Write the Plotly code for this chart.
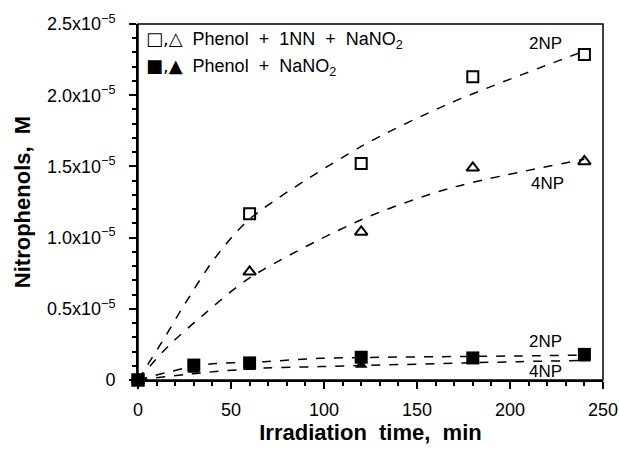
import plotly.graph_objects as go

# measured data (M)
t_open = [0, 60, 120, 180, 240]
np2_open = [0, 1.167e-5, 1.52e-5, 2.13e-5, 2.285e-5]
np4_open = [0, 0.76e-5, 1.04e-5, 1.49e-5, 1.535e-5]

t_fill = [0, 30, 60, 120, 180, 240]
np2_fill = [0, 0.105e-5, 0.12e-5, 0.16e-5, 0.155e-5, 0.18e-5]
np4_fill = [0, 0.07e-5, 0.09e-5, 0.105e-5, 0.14e-5, 0.15e-5]

# fitted curves
t_c2o = [0, 13, 25, 41, 60, 120, 168, 240]
c2o = [0, 0.27e-5, 0.53e-5, 0.85e-5, 1.13e-5, 1.64e-5, 1.945e-5, 2.31e-5]
t_c4o = [0, 16, 34, 60, 120, 168, 240]
c4o = [0, 0.234e-5, 0.445e-5, 0.717e-5, 1.125e-5, 1.348e-5, 1.55e-5]
t_c2f = [0, 34, 68, 98, 205, 240]
c2f = [0, 0.105e-5, 0.129e-5, 0.152e-5, 0.169e-5, 0.175e-5]
t_c4f = [0, 34, 68, 98, 205, 240]
c4f = [0, 0.05e-5, 0.084e-5, 0.094e-5, 0.129e-5, 0.137e-5]

y_ticks = [0, 0.5e-5, 1.0e-5, 1.5e-5, 2.0e-5, 2.5e-5]
y_ticktext = ["0", "0.5x10<sup>−5</sup>", "1.0x10<sup>−5</sup>", "1.5x10<sup>−5</sup>",
              "2.0x10<sup>−5</sup>", "2.5x10<sup>−5</sup>"]
x_ticks = [0, 50, 100, 150, 200, 250]

FONT = "Liberation Sans, Arial, Helvetica, sans-serif"
fig = go.Figure()

dash = dict(color="black", width=1.5, dash="dash")
for tx, ty in [(t_c2o, c2o), (t_c4o, c4o), (t_c2f, c2f), (t_c4f, c4f)]:
    fig.add_trace(go.Scatter(x=tx, y=ty, mode="lines", line=dict(shape="spline", smoothing=0.8, **dash),
                             showlegend=False, hoverinfo="skip"))

fig.add_trace(go.Scatter(x=t_open, y=np2_open, mode="markers", cliponaxis=False, showlegend=False,
                         marker=dict(symbol="square-open", size=11, color="black", line=dict(width=2))))
fig.add_trace(go.Scatter(x=t_open, y=np4_open, mode="markers", cliponaxis=False, showlegend=False,
                         marker=dict(symbol="triangle-up-open", size=11, color="black", line=dict(width=2))))
fig.add_trace(go.Scatter(x=t_fill, y=np4_fill, mode="markers", cliponaxis=False, showlegend=False,
                         marker=dict(symbol="triangle-up", size=11, color="black")))
fig.add_trace(go.Scatter(x=t_fill, y=np2_fill, mode="markers", cliponaxis=False, showlegend=False,
                         marker=dict(symbol="square", size=13, color="black")))

TICKFONT = dict(family=FONT, size=18, color="black")
axis_common = dict(showgrid=False, zeroline=False, showline=True, linecolor="black", linewidth=2,
                   ticks="outside", ticklen=7, tickwidth=1.5, tickcolor="black", automargin=False,
                   ticklabeloverflow="allow", tickfont=TICKFONT)

fig.update_xaxes(range=[0, 250], tickvals=x_ticks, ticklabelstandoff=5,
                 minor=dict(dtick=10, ticks="outside", ticklen=4, tickwidth=1.5, tickcolor="black"),
                 title=dict(text="<b>Irradiation  time,  min</b>", font=dict(family=FONT, size=22, color="black"),
                            standoff=4),
                 **axis_common)
fig.update_yaxes(range=[0, 2.5e-5], tickvals=y_ticks, ticktext=y_ticktext, ticklabelstandoff=10,
                 minor=dict(dtick=0.1e-5, ticks="outside", ticklen=4, tickwidth=1.5, tickcolor="black"),
                 title=dict(text="<b>Nitrophenols,  M</b>", font=dict(family=FONT, size=22, color="black"),
                            standoff=10),
                 **axis_common)

fig.add_shape(type="rect", xref="paper", yref="paper", x0=0, y0=0, x1=1, y1=1,
              line=dict(color="black", width=1.5))

ann_font = dict(family=FONT, size=18, color="black")
SYM = '<span style="font-family:DejaVu Sans">{}</span>'
fig.add_annotation(xref="paper", yref="paper", x=0.012, y=0.955, xanchor="left", yanchor="middle",
                   text=SYM.format("□,△") + "  Phenol  +  1NN  +  NaNO<sub>2</sub>", showarrow=False, font=ann_font)
fig.add_annotation(xref="paper", yref="paper", x=0.012, y=0.88, xanchor="left", yanchor="middle",
                   text=SYM.format("■,▲") + "  Phenol  +  NaNO<sub>2</sub>", showarrow=False, font=ann_font)

lab_font = dict(family=FONT, size=17, color="black")
for x, y, txt in [(0.877, 0.946, "2NP"), (0.881, 0.553, "4NP"), (0.877, 0.107, "2NP"), (0.877, 0.024, "4NP")]:
    fig.add_annotation(xref="paper", yref="paper", x=x, y=y, text=txt, showarrow=False, font=lab_font,
                       xanchor="center", yanchor="middle")

fig.update_layout(width=619, height=454, margin=dict(l=138, r=16, t=24, b=74),
                  font=dict(family=FONT, size=18, color="black"),
                  plot_bgcolor="white", paper_bgcolor="white", showlegend=False)

# remove the browser's default 8 px body margin so the figure fills the 619x454 window exactly
fig.write_html("out.html", config={"displayModeBar": False},
               post_script="document.body.style.margin='0';")
